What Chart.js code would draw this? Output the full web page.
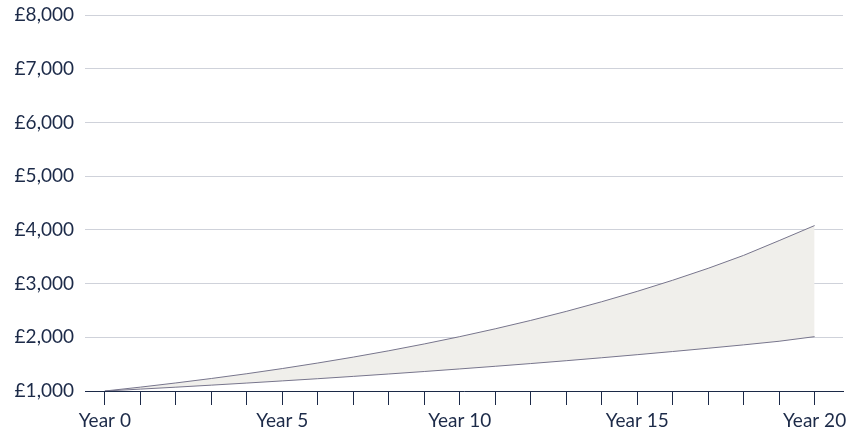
<!DOCTYPE html>
<html>
<head>
<meta charset="utf-8">
<script src="https://cdn.jsdelivr.net/npm/chart.js@4"></script>
<style>
  html, body { margin: 0; padding: 0; background: #fff; }
  #wrap { width: 861px; height: 436px; }
</style>
</head>
<body>
<div id="wrap"><canvas id="myChart"></canvas></div>
<script>
const years = [0, 1, 2, 3, 4, 5, 6, 7, 8, 9, 10, 11, 12, 13, 14, 15, 16, 17, 18, 19, 20];
const upperValues = [1000, 1072, 1150, 1233, 1322, 1418, 1521, 1631, 1749, 1876, 2012, 2158, 2314, 2482, 2662, 2855, 3062, 3284, 3525, 3800, 4080];
const lowerValues = [1000, 1035, 1071, 1109, 1148, 1188, 1229, 1272, 1317, 1363, 1411, 1460, 1511, 1564, 1619, 1676, 1735, 1796, 1859, 1926, 2012];
const yTicks = [1000, 2000, 3000, 4000, 5000, 6000, 7000, 8000];

const navy = '#1c2a48';
const lineColour = '#77758c';

const ctx = document.getElementById('myChart').getContext('2d');
const myChart = new Chart(ctx, {
    type: 'line',
    data: {
        datasets: [{
            label: 'Lower',
            data: years.map((y, i) => ({ x: y, y: lowerValues[i] })),
            borderColor: lineColour,
            borderWidth: 1,
            pointRadius: 0,
            fill: false
        }, {
            label: 'Upper',
            data: years.map((y, i) => ({ x: y, y: upperValues[i] })),
            borderColor: lineColour,
            borderWidth: 1,
            pointRadius: 0,
            backgroundColor: '#f0efeb',
            fill: '-1'
        }]
    },
    options: {
        responsive: true,
        maintainAspectRatio: false,
        animation: false,
        layout: { padding: { top: 15, right: 18, bottom: 0, left: 0 } },
        plugins: { legend: { display: false }, tooltip: { enabled: false } },
        scales: {
            x: {
                type: 'linear',
                min: -0.56,
                max: 20.8,
                afterFit: s => { s.height = 45; s.paddingLeft = 0; s.paddingRight = 0; },
                afterBuildTicks: s => { s.ticks = years.map(v => ({ value: v })); },
                ticks: {
                    autoSkip: false,
                    maxRotation: 0,
                    padding: 4,
                    color: navy,
                    font: { family: 'Lato', size: 19 },
                    callback: v => (v % 5 === 0 ? 'Year ' + v : '')
                },
                grid: { drawOnChartArea: false, drawTicks: true, tickLength: 14, tickColor: navy, tickWidth: 1 },
                border: { display: true, color: navy, width: 1 }
            },
            y: {
                min: 1000,
                max: 8000,
                afterFit: s => { s.width = 85; s.paddingTop = 0; s.paddingBottom = 0; },
                afterBuildTicks: s => { s.ticks = yTicks.map(v => ({ value: v })); },
                ticks: {
                    padding: 11,
                    color: navy,
                    font: { family: 'Lato', size: 19 },
                    callback: v => '£' + v.toLocaleString('en-GB')
                },
                grid: { color: '#cfd2da', drawTicks: false },
                border: { display: false }
            }
        }
    }
});
</script>
</body>
</html>
